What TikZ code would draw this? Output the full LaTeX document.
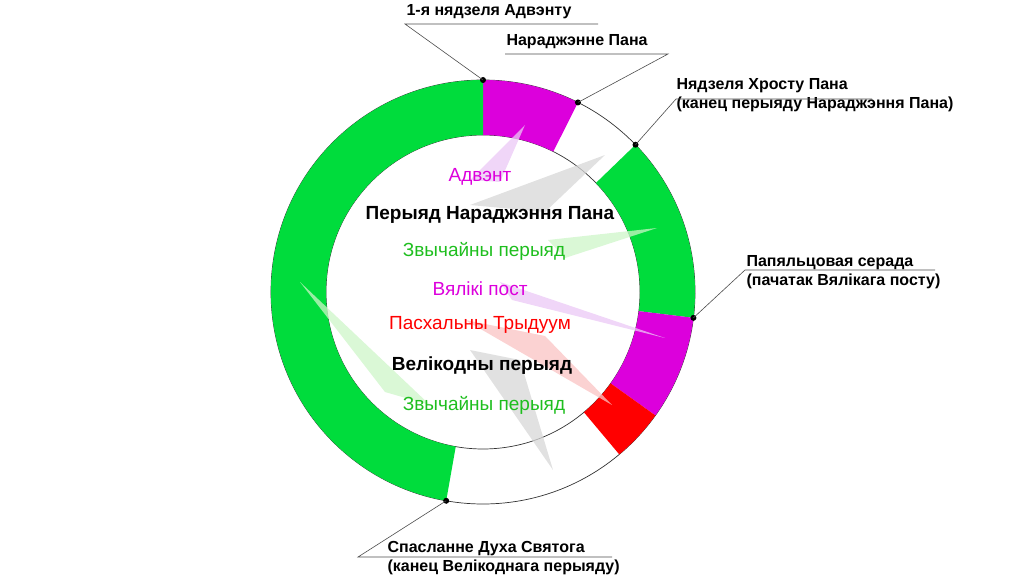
\documentclass[tikz,border=0pt]{standalone}
\usepackage{fontspec}
\setmainfont{Liberation Sans}
\usetikzlibrary{calc}
\definecolor{gr}{RGB}{0,220,60}
\definecolor{pu}{RGB}{220,0,220}
\definecolor{rd}{RGB}{255,0,0}
\definecolor{tgr}{RGB}{30,190,30}
\definecolor{wpu}{RGB}{235,200,245}
\definecolor{wgy}{RGB}{215,215,215}
\definecolor{wgr}{RGB}{205,245,200}
\definecolor{wrd}{RGB}{250,195,195}
\tikzset{
  seg/.style={fill=#1},
  big/.style={font=\fontsize{19}{22}\selectfont},
  lab/.style={font=\fontsize{16}{19}\selectfont\bfseries,align=left,anchor=west},
  lead/.style={draw=black!70,line width=0.6pt},
  dot/.style={circle,fill=black,inner sep=0pt,minimum size=6pt},
  wedge/.style={fill=#1,opacity=0.75}
}
\begin{document}
\begin{tikzpicture}[x=1pt,y=-1pt]
\useasboundingbox (0,0) rectangle (1024,585);
\coordinate (C) at (483,292);
\def\R{212}\def\r{157}
\newcommand{\segm}[3]{\fill[seg=#3] ($(C)+(#1:\R)$) arc[start angle=#1,end angle=#2,radius=\R] -- ($(C)+(#2:\r)$) arc[start angle=#2,end angle=#1,radius=\r] -- cycle;}
\draw[black!80,line width=0.7pt] (C) circle[radius=\R] (C) circle[radius=\r];
\segm{-90}{-63.4}{pu}
\segm{-44}{7}{gr}
\segm{7}{35.6}{pu}
\segm{35.6}{50}{rd}
\segm{100}{270}{gr}
% wedges
\fill[wedge=wpu] (525,125) -- (470,180) -- (500,182) -- cycle;
\fill[wedge=wgy] (605,155) -- (470,205) -- (545,212) -- cycle;
\fill[wedge=wgr] (657,228) -- (548,240) -- (565,258) -- cycle;
\fill[wedge=wpu] (665,338) -- (500,282) -- (512,300) -- cycle;
\fill[wedge=wrd] (612,405) -- (465,320) -- (545,336) -- cycle;
\fill[wedge=wgy] (553,470) -- (470,350) -- (520,360) -- cycle;
\fill[wedge=wgr] (300,282) -- (385,392) -- (430,405) -- cycle;
% texts
\node[big,text=pu] (t1) at (480,177) {Адвэнт};
\node[big,font=\fontsize{19}{22}\selectfont\bfseries] (t2) at (490,215) {Перыяд Нараджэння Пана};
\node[big,text=tgr] (t3) at (484,251) {Звычайны перыяд};
\node[big,text=pu] (t4) at (480,289) {Вялікі пост};
\node[big,text=rd] (t5) at (480,325) {Пасхальны Трыдуум};
\node[big,font=\fontsize{19}{22}\selectfont\bfseries] (t6) at (482,366) {Велікодны перыяд};
\node[big,text=tgr] (t7) at (484,405) {Звычайны перыяд};
% dots and labels
\node[dot] (d1) at ($(C)+(-90:\R)$) {};
\node[dot] (d2) at ($(C)+(-63.4:\R)$) {};
\node[dot] (d3) at ($(C)+(-44:\R)$) {};
\node[dot] (d4) at ($(C)+(7:\R)$) {};
\node[dot] (d5) at ($(C)+(100:\R)$) {};
\node[lab] (l1) at (403,12) {1-я нядзеля Адвэнту};
\coordinate (u1a) at (405,24); \coordinate (u1b) at (598,24);
\draw[lead] (d1.center) -- (u1a) -- (u1b);
\node[lab] (l2) at (503,42) {Нараджэнне Пана};
\coordinate (u2a) at (505,54); \coordinate (u2b) at (668,54);
\draw[lead] (d2.center) -- (u2b) -- (u2a);
\node[lab] (l3) at (673,95) {Нядзеля Хросту Пана\\(канец перыяду Нараджэння Пана)};
\coordinate (u3a) at (676,99); \coordinate (u3b) at (872,99);
\draw[lead] (d3.center) -- (u3a) -- (u3b);
\node[lab] (l4) at (743,272) {Папяльцовая серада\\(пачатак Вялікага посту)};
\coordinate (u4a) at (745,270); \coordinate (u4b) at (935,270);
\draw[lead] (d4.center) -- (u4a) -- (u4b);
\node[lab] (l5) at (384,558) {Спасланне Духа Святога\\(канец Велікоднага перыяду)};
\coordinate (u5a) at (358,557); \coordinate (u5b) at (612,557);
\draw[lead] (d5.center) -- (u5a) -- (u5b);
\end{tikzpicture}
\end{document}
